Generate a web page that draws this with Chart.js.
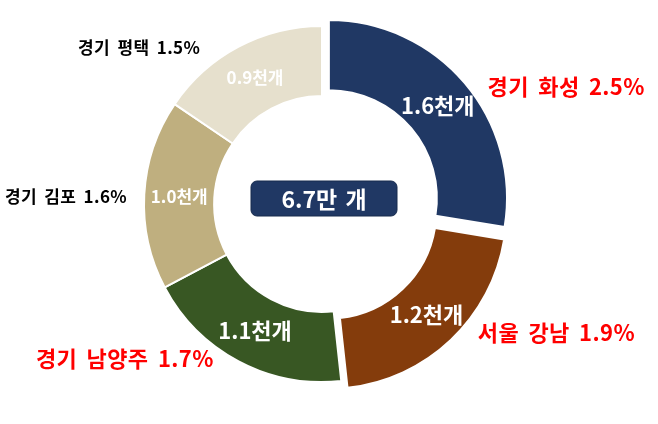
<!DOCTYPE html>
<html>
<head>
<meta charset="utf-8">
<script src="https://cdn.jsdelivr.net/npm/chart.js@4.4.1/dist/chart.umd.min.js"></script>
<style>
  body { margin: 0; background: #fff; }
  #wrap { width: 658px; height: 424px; }
</style>
</head>
<body>
<div id="wrap"><canvas id="chart"></canvas></div>
<script>
// 지역별 개수 (천개) 와 비중 (%)
const regions = ['경기 화성', '서울 강남', '경기 남양주', '경기 김포', '경기 평택'];
const counts = [1.6, 1.2, 1.1, 1.0, 0.9];
const shares = [2.5, 1.9, 1.7, 1.6, 1.5];
const totalLabel = '6.7만 개';

const sliceColors = ['#203864', '#843C0C', '#385723', '#BFAF7F', '#E6E0CD'];
const labelColors = ['#FF0000', '#FF0000', '#FF0000', '#000000', '#000000'];
const FONT = '"Noto Sans CJK KR", "Noto Sans", sans-serif';

function drawLabels(chart) {
  const ctx = chart.ctx;
  const meta = chart.getDatasetMeta(0);
  const outerSize = [22, 22, 22, 17, 17];
  const innerSize = [22, 22, 22, 17, 17];
  const nudge = [5, -7, 7, -1, -10];   // degrees
  const gap = [25, 24, 11, 17, 20];

  ctx.save();
  ctx.textBaseline = 'middle';
  meta.data.forEach((arc, i) => {
    const p = arc.getProps(['x', 'y', 'startAngle', 'endAngle', 'innerRadius', 'outerRadius'], true);
    const mid = (p.startAngle + p.endAngle) / 2;
    const shift = (arc.options.offset || 0) / 4;

    // value inside slice
    let r = (p.innerRadius + p.outerRadius) / 2 + shift;
    ctx.fillStyle = '#fff';
    ctx.textAlign = 'center';
    ctx.letterSpacing = '0px';
    ctx.wordSpacing = '0px';
    ctx.font = 'bold ' + innerSize[i] + 'px ' + FONT;
    ctx.fillText(counts[i].toFixed(1) + '천개', p.x + Math.cos(mid) * r, p.y + Math.sin(mid) * r);

    // region name + share outside
    const a = mid + nudge[i] * Math.PI / 180;
    r = p.outerRadius + gap[i];
    const lx = p.x + Math.cos(a) * r;
    const ly = p.y + Math.sin(a) * r;
    ctx.fillStyle = labelColors[i];
    ctx.textAlign = Math.cos(a) >= 0 ? 'left' : 'right';
    ctx.font = 'bold ' + outerSize[i] + 'px ' + FONT;
    ctx.letterSpacing = '0.4px';
    ctx.wordSpacing = i < 3 ? '4px' : '3px';
    ctx.fillText(regions[i] + ' ' + shares[i].toFixed(1) + '%', lx, ly);
  });

  // total in the middle
  const c = meta.data[0];
  const bx = c.x + 2, by = c.y - 6;
  ctx.beginPath();
  ctx.roundRect(bx - 73, by - 17, 146, 35, 6);
  ctx.fillStyle = '#203864';
  ctx.fill();
  ctx.lineWidth = 1;
  ctx.strokeStyle = '#162a4d';
  ctx.stroke();
  ctx.fillStyle = '#fff';
  ctx.textAlign = 'center';
  ctx.letterSpacing = '0px';
  ctx.wordSpacing = '3px';
  ctx.font = 'bold 23px ' + FONT;
  ctx.fillText(totalLabel, bx, by + 1);
  ctx.restore();
}

new Chart(document.getElementById('chart'), {
  type: 'doughnut',
  data: {
    labels: regions,
    datasets: [{
      data: counts,
      backgroundColor: sliceColors,
      borderColor: '#fff',
      borderWidth: 2,
      offset: [36, 36, 0, 0, 0]
    }]
  },
  options: {
    responsive: true,
    maintainAspectRatio: false,
    animation: false,
    radius: 178,
    cutout: 100,
    layout: { padding: { left: 0, right: 14, top: 20, bottom: 36 } },
    plugins: { legend: { display: false }, tooltip: { enabled: false } }
  },
  plugins: [{ id: 'sliceLabels', afterDatasetsDraw: drawLabels }]
});
</script>
</body>
</html>
